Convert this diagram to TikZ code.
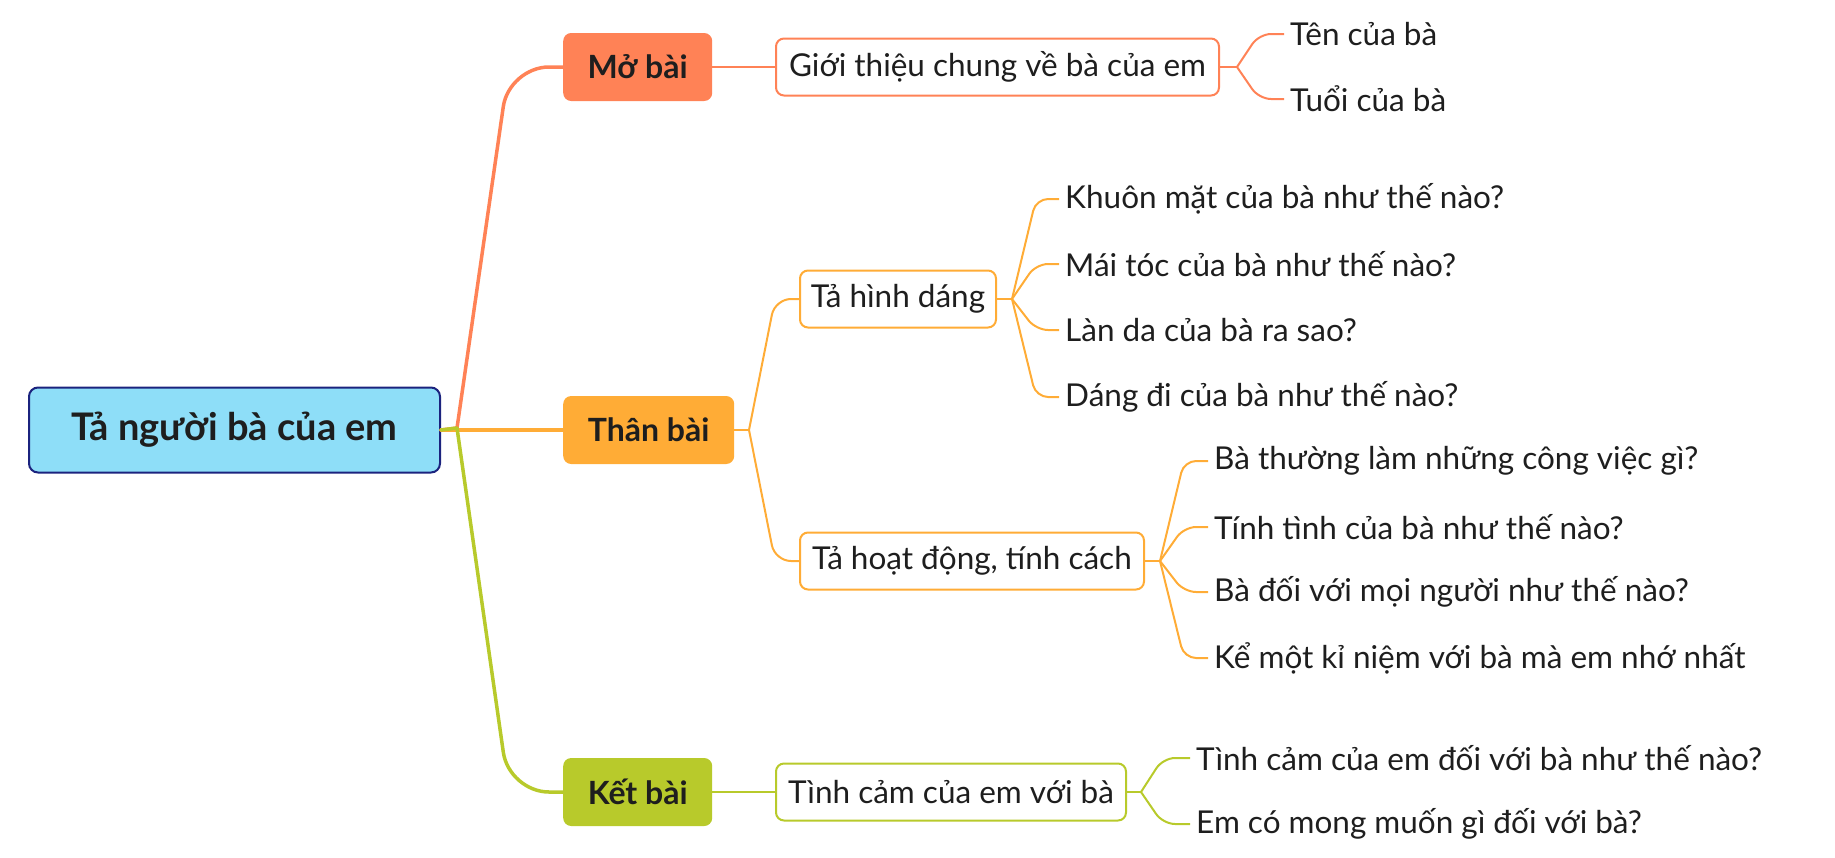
\documentclass[tikz,border=0pt]{standalone}
\usepackage{fontspec}
\setmainfont{Lato}
\usepackage{xcolor}
\usepackage{tikz}
\usetikzlibrary{calc}
\definecolor{rootfill}{HTML}{8EDEF8}
\definecolor{rootline}{HTML}{1B237E}
\definecolor{mo}{HTML}{FF8256}
\definecolor{than}{HTML}{FFAC36}
\definecolor{ket}{HTML}{B8CA2B}
\definecolor{ink}{HTML}{1E1E1E}
\tikzset{
  rootbox/.style={draw=rootline, fill=rootfill, line width=2pt, rounded corners=9pt,
    minimum width=411pt, minimum height=85pt, text=ink,
    font=\fontsize{38}{44}\selectfont\bfseries},
  partbox/.style={fill=#1, rounded corners=8pt, minimum height=68pt, anchor=west,
    text=ink, font=\fontsize{32}{38}\selectfont\bfseries},
  subbox/.style={draw=#1, fill=white, line width=2pt, rounded corners=8pt,
    minimum height=57pt, anchor=west, text=ink, font=\fontsize{31.5}{37}\selectfont},
  leaf/.style={anchor=west, inner xsep=6pt, inner ysep=0pt, text=ink,
    font=\fontsize{31.5}{37}\selectfont},
  trunk/.style={draw=#1, line width=3.5pt, line cap=round},
  twig/.style={draw=#1, line width=2pt, rounded corners=12pt}
}

\begin{document}
\begin{tikzpicture}[x=1pt, y=-1pt]
  \useasboundingbox (0,0) rectangle (1835,857);

  \node[rootbox] (root) at (234.5,430) {Tả người bà của em};
  \node[partbox=mo, minimum width=149pt] (mo) at (563,67) {Mở bài};
  \node[partbox=than, minimum width=171pt] (than) at (563,430) {Thân bài};
  \node[partbox=ket, minimum width=149pt] (ket) at (563,792) {Kết bài};

  \node[subbox=mo, minimum width=443pt] (gioithieu) at (775,67) {Giới thiệu chung về bà của em};
  \node[subbox=than, minimum width=196pt] (hinhdang) at (799,299) {Tả hình dáng};
  \node[subbox=than, minimum width=344pt] (hoatdong) at (799,561) {Tả hoạt động, tính cách};
  \node[subbox=ket, minimum width=350pt] (tinhcam) at (775,792) {Tình cảm của em với bà};

  \foreach \y/\t [count=\i] in {34/Tên của bà, 99/Tuổi của bà}
    \node[leaf] (m\i) at (1284,\y) {\t};
  \foreach \y/\t [count=\i] in {199/Khuôn mặt của bà như thế nào?, 264/Mái tóc của bà như thế nào?,
      330/Làn da của bà ra sao?, 397/Dáng đi của bà như thế nào?}
    \node[leaf] (h\i) at (1059,\y) {\t};
  \foreach \y/\t [count=\i] in {461/Bà thường làm những công việc gì?, 527/Tính tình của bà như thế nào?,
      592/Bà đối với mọi người như thế nào?, 658/Kể một kỉ niệm với bà mà em nhớ nhất}
    \node[leaf] (a\i) at (1208,\y) {\t};
  \foreach \y/\t [count=\i] in {758/Tình cảm của em đối với bà như thế nào?, 824/Em có mong muốn gì đối với bà?}
    \node[leaf] (k\i) at (1190,\y) {\t};

  \coordinate (jr) at (457,428);
  \coordinate (cr) at (509,428);
  \coordinate (jm) at (1237,67);
  \coordinate (cm) at (1259,67);
  \coordinate (jt) at (749,430);
  \coordinate (ct) at (775,430);
  \coordinate (jh) at (1012,299);
  \coordinate (ch) at (1036,299);
  \coordinate (ja) at (1160,561);
  \coordinate (ca) at (1184,561);
  \coordinate (jk) at (1141,792);
  \coordinate (ck) at (1163,792);

  \draw[trunk=mo] (root.east) -- (jr);
  \draw[trunk=mo, rounded corners=40pt] (jr) -- (cr |- mo.west) -- (mo.west);
  \draw[trunk=than] (root.east) -- (than.west);
  \draw[trunk=ket] (root.east) -- (jr);
  \draw[trunk=ket, rounded corners=40pt] (jr) -- (cr |- ket.west) -- (ket.west);

  \draw[twig=mo] (mo.east) -- (gioithieu.west);
  \draw[twig=mo] (gioithieu.east) -- (jm);
  \foreach \n in {m1,m2}
    \draw[twig=mo] (jm) -- (cm |- \n.west) -- (\n.west);

  \draw[twig=than] (than.east) -- (jt);
  \foreach \n in {hinhdang,hoatdong}
    \draw[twig=than, rounded corners=16pt] (jt) -- (ct |- \n.west) -- (\n.west);
  \draw[twig=than] (hinhdang.east) -- (jh);
  \foreach \n in {h1,h2,h3,h4}
    \draw[twig=than] (jh) -- (ch |- \n.west) -- (\n.west);
  \draw[twig=than] (hoatdong.east) -- (ja);
  \foreach \n in {a1,a2,a3,a4}
    \draw[twig=than] (ja) -- (ca |- \n.west) -- (\n.west);

  \draw[twig=ket] (ket.east) -- (tinhcam.west);
  \draw[twig=ket] (tinhcam.east) -- (jk);
  \foreach \n in {k1,k2}
    \draw[twig=ket] (jk) -- (ck |- \n.west) -- (\n.west);
\end{tikzpicture}
\end{document}
